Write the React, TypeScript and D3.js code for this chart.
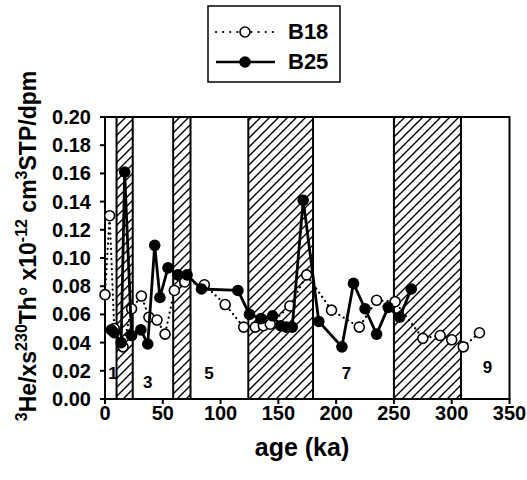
import React from "react";
import * as d3 from "d3";

// ---- data ----
const b18Age = [0, 4, 8, 15.6, 23, 31.5, 38, 45, 52, 60, 69, 86, 104, 120, 130, 137, 143, 160, 174.5, 196, 220, 235, 251, 275, 290, 300, 310, 324];
const b18Val = [0.074, 0.130, 0.050, 0.037, 0.064, 0.073, 0.058, 0.056, 0.046, 0.077, 0.083, 0.081, 0.067, 0.051, 0.051, 0.052, 0.053, 0.066, 0.088, 0.063, 0.051, 0.070, 0.069, 0.043, 0.045, 0.042, 0.037, 0.047];

const b25Age = [5.5, 8, 14, 17, 23, 31, 37, 43, 47.5, 54.5, 63, 71, 83.5, 115, 125, 135, 145, 152, 157, 162, 171.5, 185, 205, 215, 225, 235, 245, 255, 265];
const b25Val = [0.049, 0.047, 0.040, 0.161, 0.045, 0.049, 0.039, 0.109, 0.072, 0.093, 0.088, 0.088, 0.078, 0.077, 0.060, 0.057, 0.059, 0.052, 0.051, 0.051, 0.141, 0.055, 0.037, 0.082, 0.064, 0.046, 0.065, 0.058, 0.078];

const bandStart = [10, 59, 124, 250];
const bandEnd = [24, 74, 180, 308];

const stageLabels = ["1", "3", "5", "7", "9"];
const stageAge = [7, 37, 90, 209, 331];
const stageVal = [0.0184, 0.012, 0.0184, 0.0184, 0.0227];

const xTicks = [0, 50, 100, 150, 200, 250, 300, 350];
const yTicks = [0, 0.02, 0.04, 0.06, 0.08, 0.1, 0.12, 0.14, 0.16, 0.18, 0.2];

const seriesNames = ["B18", "B25"];

export default function App() {
  const W = 527, H = 480;
  const x = d3.scaleLinear().domain([0, 350]).range([105, 509.5]);
  const y = d3.scaleLinear().domain([0, 0.2]).range([399, 117]);
  const font = "'Liberation Sans', Arial, sans-serif";

  const b18 = b18Age.map((a, i) => [a, b18Val[i]] as [number, number]);
  const b25 = b25Age.map((a, i) => [a, b25Val[i]] as [number, number]);
  const line = d3.line<[number, number]>().x(d => x(d[0])).y(d => y(d[1]));

  const x0 = x(0), x1 = x(350), y0 = y(0), y1 = y(0.2);

  return (
    <svg width={W} height={H} style={{ position: "absolute", left: 0, top: 0, background: "#fff" }} fontFamily={font}>
      <defs>
        <pattern id="hatch" patternUnits="userSpaceOnUse" width="9" height="9">
          <path d="M0,9 L9,0 M-2.25,2.25 L2.25,-2.25 M6.75,11.25 L11.25,6.75" stroke="#000" strokeWidth="1.4" />
        </pattern>
      </defs>
      <rect x={0} y={0} width={W} height={H} fill="#fff" />

      {/* bands */}
      {bandStart.map((s, i) => (
        <g key={i}>
          <rect x={x(s)} y={y1} width={x(bandEnd[i]) - x(s)} height={y0 - y1} fill="url(#hatch)" />
          <line x1={x(s)} x2={x(s)} y1={y1} y2={y0} stroke="#000" strokeWidth={2} />
          <line x1={x(bandEnd[i])} x2={x(bandEnd[i])} y1={y1} y2={y0} stroke="#000" strokeWidth={2} />
        </g>
      ))}

      {/* frame */}
      <rect x={x0} y={y1} width={x1 - x0} height={y0 - y1} fill="none" stroke="#000" strokeWidth={2} />

      {/* y ticks */}
      {yTicks.map((t, i) => (
        <g key={i}>
          <line x1={x0 - 5} x2={x0} y1={y(t)} y2={y(t)} stroke="#000" strokeWidth={2} />
          <text x={91} y={y(t) + 7} textAnchor="end" fontSize={20} fontWeight="bold">{t.toFixed(2)}</text>
        </g>
      ))}
      {/* x ticks */}
      {xTicks.map((t, i) => (
        <g key={i}>
          <line x1={x(t)} x2={x(t)} y1={y0} y2={y0 + 5} stroke="#000" strokeWidth={2} />
          <text x={x(t)} y={420} textAnchor="middle" fontSize={20} fontWeight="bold">{t}</text>
        </g>
      ))}

      {/* stage labels */}
      {stageLabels.map((s, i) => (
        <text key={i} x={x(stageAge[i])} y={y(stageVal[i]) + 6} textAnchor="middle" fontSize={17} fontWeight="bold">{s}</text>
      ))}

      {/* B18 */}
      <path d={line(b18) || ""} fill="none" stroke="#000" strokeWidth={2.2} strokeDasharray="0.1,5" strokeLinecap="round" />
      {b18.map((d, i) => (
        <circle key={i} cx={x(d[0])} cy={y(d[1])} r={5} fill="#fff" stroke="#000" strokeWidth={1.6} />
      ))}

      {/* B25 */}
      <path d={line(b25) || ""} fill="none" stroke="#000" strokeWidth={2.8} strokeLinejoin="round" />
      {b25.map((d, i) => (
        <circle key={i} cx={x(d[0])} cy={y(d[1])} r={5.8} fill="#000" />
      ))}

      {/* axis titles */}
      <text x={302} y={456} textAnchor="middle" fontSize={25} fontWeight="bold">age (ka)</text>
      <text transform="translate(36,246) rotate(-90)" textAnchor="middle" fontSize={23} fontWeight="bold">
        <tspan fontSize={16} dy={-9}>3</tspan>
        <tspan dy={9}>He/xs</tspan>
        <tspan fontSize={16} dy={-9}>230</tspan>
        <tspan dy={9}>Th° x10</tspan>
        <tspan fontSize={16} dy={-9}>-12</tspan>
        <tspan dy={9}> cm</tspan>
        <tspan fontSize={16} dy={-9}>3</tspan>
        <tspan dy={9}>STP/dpm</tspan>
      </text>

      {/* legend */}
      <rect x={208} y={6} width={132} height={76} fill="#fff" stroke="#000" strokeWidth={1.5} />
      <line x1={216} x2={275} y1={32} y2={32} stroke="#000" strokeWidth={2.2} strokeDasharray="0.1,7" strokeLinecap="round" />
      <circle cx={245} cy={32} r={5} fill="#fff" stroke="#000" strokeWidth={1.6} />
      <text x={288} y={39} fontSize={22} fontWeight="bold">{seriesNames[0]}</text>
      <line x1={216} x2={275} y1={62} y2={62} stroke="#000" strokeWidth={2.5} />
      <circle cx={245} cy={62} r={5.8} fill="#000" />
      <text x={288} y={69} fontSize={22} fontWeight="bold">{seriesNames[1]}</text>
    </svg>
  );
}
